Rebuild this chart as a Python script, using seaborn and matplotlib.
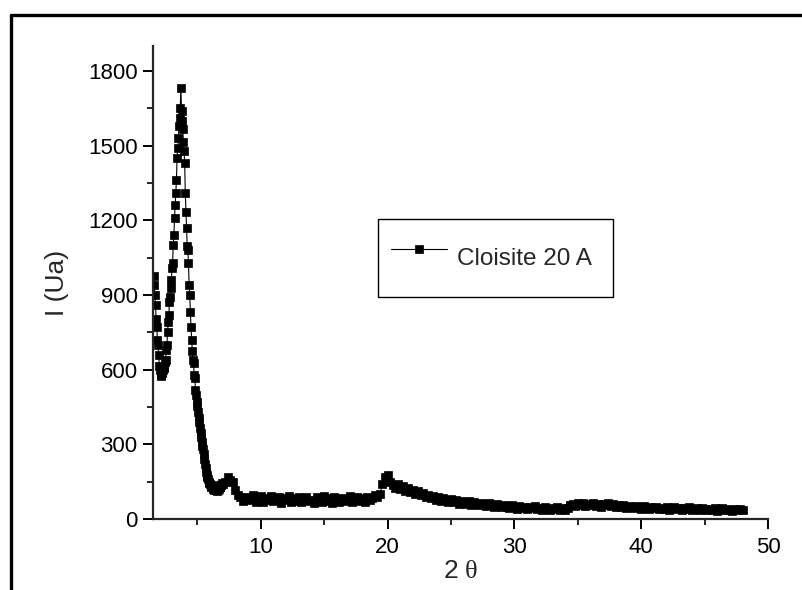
import numpy as np
import seaborn as sns
import matplotlib.pyplot as plt
from matplotlib.lines import Line2D
from matplotlib.ticker import MultipleLocator

# XRD scan of Cloisite 20 A, intensities
# low-angle part, 2 theta from 1.55 to 7.00, step 0.05
two_theta_low = np.round(np.linspace(1.55, 7.00, 110), 2)
intensity_low = [
    975, 940, 900, 860, 805, 770, 720, 700, 660, 615,
    600, 580, 575, 590, 585, 600, 610, 605, 630, 640,
    680, 700, 750, 790, 820, 870, 890, 930, 960, 1010,
    1030, 1100, 1140, 1210, 1260, 1310, 1360, 1450, 1490, 1530,
    1580, 1610, 1650, 1732, 1640, 1600, 1565, 1515, 1480, 1430,
    1310, 1235, 1170, 1095, 1080, 1030, 940, 900, 830, 770,
    720, 675, 640, 625, 580, 565, 520, 500, 470, 455,
    430, 405, 390, 365, 345, 330, 310, 295, 280, 260,
    240, 220, 205, 190, 178, 168, 160, 150, 145, 140,
    132, 128, 135, 125, 120, 130, 118, 122, 115, 120,
    112, 118, 125, 122, 130, 128, 138, 135, 145, 140,
]

# rest of the scan, 2 theta from 7.2 to 48.0, step 0.2
two_theta_high = np.round(np.linspace(7.2, 48.0, 205), 2)
intensity_high = [
    150, 168, 158, 150, 118, 96, 88, 72, 90, 76,
    84, 95, 70, 82, 92, 68, 86, 78, 94, 72,
    80, 90, 66, 84, 76, 92, 70, 86, 74, 88,
    68, 82, 90, 72, 78, 64, 88, 76, 70, 92,
    74, 84, 66, 90, 78, 70, 86, 72, 82, 94,
    70, 80, 88, 74, 84, 68, 90, 78, 86, 96,
    88, 100, 140, 168, 178, 150, 138, 126, 140, 122,
    132, 114, 126, 108, 118, 100, 112, 96, 104, 90,
    98, 84, 92, 76, 88, 72, 84, 78, 70, 82,
    68, 78, 62, 74, 66, 60, 72, 58, 68, 62,
    56, 66, 60, 52, 64, 56, 50, 60, 54, 48,
    58, 50, 46, 56, 48, 42, 54, 46, 50, 40,
    48, 44, 52, 40, 46, 38, 50, 42, 36, 46,
    40, 48, 36, 44, 38, 46, 58, 62, 54, 66,
    58, 64, 52, 62, 56, 66, 54, 60, 50, 62,
    56, 64, 52, 60, 48, 56, 50, 58, 46, 54,
    50, 44, 54, 48, 42, 52, 46, 40, 50, 44,
    48, 40, 46, 42, 50, 38, 44, 48, 40, 46,
    38, 44, 40, 48, 36, 42, 46, 38, 44, 40,
    36, 42, 38, 44, 34, 40, 44, 36, 42, 38,
    34, 40, 36, 42, 38,
]

two_theta = np.concatenate([two_theta_low, two_theta_high])
intensity = np.array(intensity_low + intensity_high)

sns.set_style('ticks')
plt.rcParams['font.family'] = ['Liberation Sans', 'DejaVu Sans']
plt.rcParams['mathtext.fontset'] = 'custom'
plt.rcParams['mathtext.rm'] = 'Liberation Serif'

fig = plt.figure(figsize=(8.03, 5.90), dpi=100)
ax = fig.add_axes([0.1905, 0.1203, 0.7659, 0.8017])

sns.lineplot(
    x=two_theta, y=intensity, ax=ax, sort=False,
    color='black', linewidth=0.8,
    marker='s', markersize=6.2, markeredgecolor='black', markeredgewidth=0.5,
    label='Cloisite 20 A',
)

ax.set_xlim(1.5, 50)
ax.set_ylim(0, 1900)
ax.xaxis.set_major_locator(MultipleLocator(10))
ax.xaxis.set_minor_locator(MultipleLocator(5))
ax.yaxis.set_major_locator(MultipleLocator(300))
ax.yaxis.set_minor_locator(MultipleLocator(150))

for side in ['top', 'right']:
    ax.spines[side].set_visible(False)
for side in ['left', 'bottom']:
    ax.spines[side].set_linewidth(1.6)

ax.tick_params(which='major', direction='out', length=7, width=1.4,
               labelsize=16, pad=4, colors='black')
ax.tick_params(which='minor', direction='out', length=4, width=1.4)
ax.tick_params(axis='x', which='major', pad=6)

ax.set_xlabel(r'2 $\mathrm{\theta}$', fontsize=19, labelpad=1)
ax.set_ylabel('I (Ua)', fontsize=19, labelpad=14)

leg = ax.legend(
    loc='lower left', bbox_to_anchor=(0.366, 0.469, 0.382, 0.172),
    mode='expand', borderaxespad=0, fontsize=17.5, fancybox=False,
    framealpha=1, edgecolor='black', borderpad=0.55,
    handlelength=2.3, handleheight=2.9, handletextpad=0.4,
)
leg.get_frame().set_linewidth(1.0)

# open frame around the whole picture (top and left edges only)
fig.add_artist(Line2D([0.0137, 1.0], [0.9746, 0.9746], color='black', linewidth=2.4))
fig.add_artist(Line2D([0.0137, 0.0137], [0.0, 0.9746], color='black', linewidth=2.4))

fig.savefig('out.png', dpi=100)
